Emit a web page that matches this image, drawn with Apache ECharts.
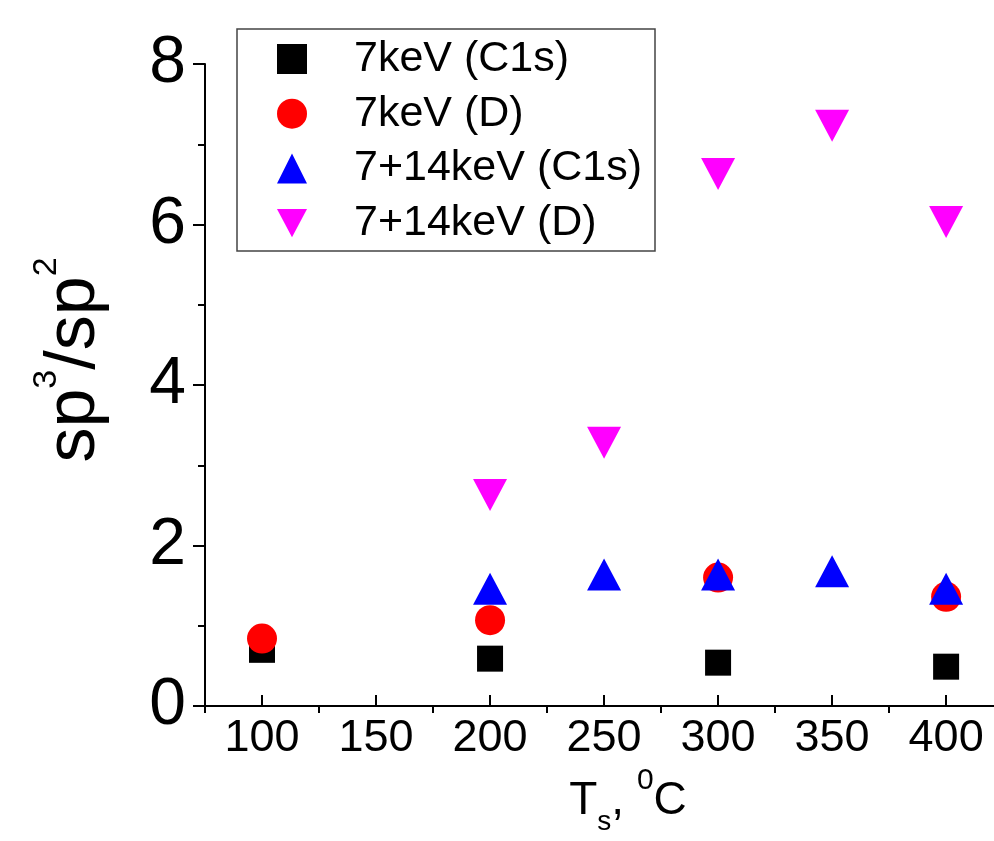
<!DOCTYPE html>
<html>
<head>
<meta charset="utf-8">
<script src="https://cdn.jsdelivr.net/npm/echarts@6/dist/echarts.min.js"></script>
<style>
  html, body { margin: 0; padding: 0; background: #fff; }
  #chart { width: 994px; height: 841px; }
</style>
</head>
<body>
<div id="chart"></div>
<script>
const FONT = "'Liberation Sans', Arial, sans-serif";

// data
const temps7C1s = [100, 200, 300, 400];
const vals7C1s = [0.70, 0.59, 0.54, 0.49];
const temps7D = [100, 200, 300, 400];
const vals7D = [0.84, 1.07, 1.60, 1.36];
const temps714C1s = [200, 250, 300, 350, 400];
const vals714C1s = [1.46, 1.64, 1.64, 1.68, 1.46];
const temps714D = [200, 250, 300, 350, 400];
const vals714D = [2.63, 3.28, 6.63, 7.23, 6.03];
const seriesNames = ['7keV (C1s)', '7keV (D)', '7+14keV (C1s)', '7+14keV (D)'];
const xTickLabels = [100, 150, 200, 250, 300, 350, 400];
const xMinorTicks = [75, 125, 175, 225, 275, 325, 375];

function pairs(xs, ys) {
  return xs.map((x, i) => [x, ys[i]]);
}

const downTriangle = 'path://M0,0 L2,0 L1,1.88 Z';

const chart = echarts.init(document.getElementById('chart'));

// grid 0 carries the data + minor x ticks, grid 1 only draws major x ticks & labels
const xMin = 75, xMax = 421;
const scaleX = (994 - 205) / (xMax - xMin);
const grid1Left = 205 + (100 - xMin) * scaleX;

chart.setOption({
  backgroundColor: '#fff',
  animation: false,
  grid: [
    { left: 205, right: 0, top: 64, bottom: 135 },
    { left: grid1Left, right: 0, top: 64, bottom: 135 }
  ],
  legend: {
    orient: 'vertical',
    left: 237,
    top: 29,
    padding: [8, 13, 6, 40],
    itemWidth: 30,
    itemHeight: 30,
    itemGap: 10.7,
    borderColor: '#444',
    borderWidth: 1.5,
    data: seriesNames,
    textStyle: {
      fontFamily: FONT,
      fontSize: 43,
      lineHeight: 44,
      color: '#000',
      padding: [0, 0, 0, 42]
    }
  },
  xAxis: [
    {
      gridIndex: 0,
      type: 'value',
      min: xMin,
      max: xMax,
      interval: 25,
      splitLine: { show: false },
      axisLine: { show: true, onZero: false, lineStyle: { color: '#000', width: 2 } },
      axisTick: {
        show: true, inside: false, length: 7,
        customValues: xMinorTicks,
        lineStyle: { color: '#000', width: 2 }
      },
      axisLabel: { show: false }
    },
    {
      gridIndex: 1,
      type: 'value',
      min: 100,
      max: xMax,
      interval: 50,
      splitLine: { show: false },
      axisLine: { show: false, onZero: false },
      axisTick: {
        show: true, inside: false, length: 12,
        customValues: xTickLabels,
        lineStyle: { color: '#000', width: 2 }
      },
      axisLabel: {
        show: true,
        margin: 21,
        fontFamily: FONT,
        fontSize: 45,
        color: '#000',
        hideOverlap: false,
        customValues: xTickLabels
      },
      name: '{b|T}{sub|s}{b|, }{sup|0}{b|C}',
      nameLocation: 'middle',
      nameGap: 66,
      nameTextStyle: {
        rich: {
          b: { fontFamily: FONT, fontSize: 46, lineHeight: 70, color: '#000', verticalAlign: 'middle' },
          sub: { fontFamily: FONT, fontSize: 28, lineHeight: 20, color: '#000', verticalAlign: 'bottom' },
          sup: { fontFamily: FONT, fontSize: 30, lineHeight: 49, color: '#000', verticalAlign: 'top' }
        }
      }
    }
  ],
  yAxis: [
    {
      gridIndex: 0,
      type: 'value',
      min: 0,
      max: 8,
      interval: 2,
      splitLine: { show: false },
      axisLine: { show: true, onZero: false, lineStyle: { color: '#000', width: 2 } },
      axisTick: { show: true, inside: false, length: 12, lineStyle: { color: '#000', width: 2 } },
      minorTick: { show: true, splitNumber: 2, length: 7, lineStyle: { color: '#000', width: 2 } },
      axisLabel: { margin: 19, fontFamily: FONT, fontSize: 66, color: '#000' },
      name: '{b|sp}{sup|3}{b|/sp}{sup|2}',
      nameLocation: 'middle',
      nameGap: 85,
      nameRotate: 90,
      nameTextStyle: {
        padding: [0, 0, 0, 50],
        rich: {
          b: { fontFamily: FONT, fontSize: 70, lineHeight: 90, color: '#000', verticalAlign: 'middle' },
          sup: { fontFamily: FONT, fontSize: 34, lineHeight: 34, color: '#000', verticalAlign: 'top' }
        }
      }
    },
    {
      gridIndex: 1,
      type: 'value',
      min: 0,
      max: 8,
      show: false
    }
  ],
  series: [
    {
      name: seriesNames[0],
      type: 'scatter',
      xAxisIndex: 0, yAxisIndex: 0,
      symbol: 'rect',
      symbolSize: 26,
      itemStyle: { color: '#000000', opacity: 1 },
      data: pairs(temps7C1s, vals7C1s)
    },
    {
      name: seriesNames[1],
      type: 'scatter',
      xAxisIndex: 0, yAxisIndex: 0,
      symbol: 'circle',
      symbolSize: 30,
      itemStyle: { color: '#ff0000', opacity: 1 },
      data: pairs(temps7D, vals7D)
    },
    {
      name: seriesNames[2],
      type: 'scatter',
      xAxisIndex: 0, yAxisIndex: 0,
      symbol: 'triangle',
      symbolSize: [34, 32],
      itemStyle: { color: '#0000ff', opacity: 1 },
      data: pairs(temps714C1s, vals714C1s)
    },
    {
      name: seriesNames[3],
      type: 'scatter',
      xAxisIndex: 0, yAxisIndex: 0,
      symbol: downTriangle,
      symbolSize: [34, 32],
      symbolKeepAspect: false,
      itemStyle: { color: '#ff00ff', opacity: 1 },
      data: pairs(temps714D, vals714D)
    }
  ]
});
</script>
</body>
</html>
